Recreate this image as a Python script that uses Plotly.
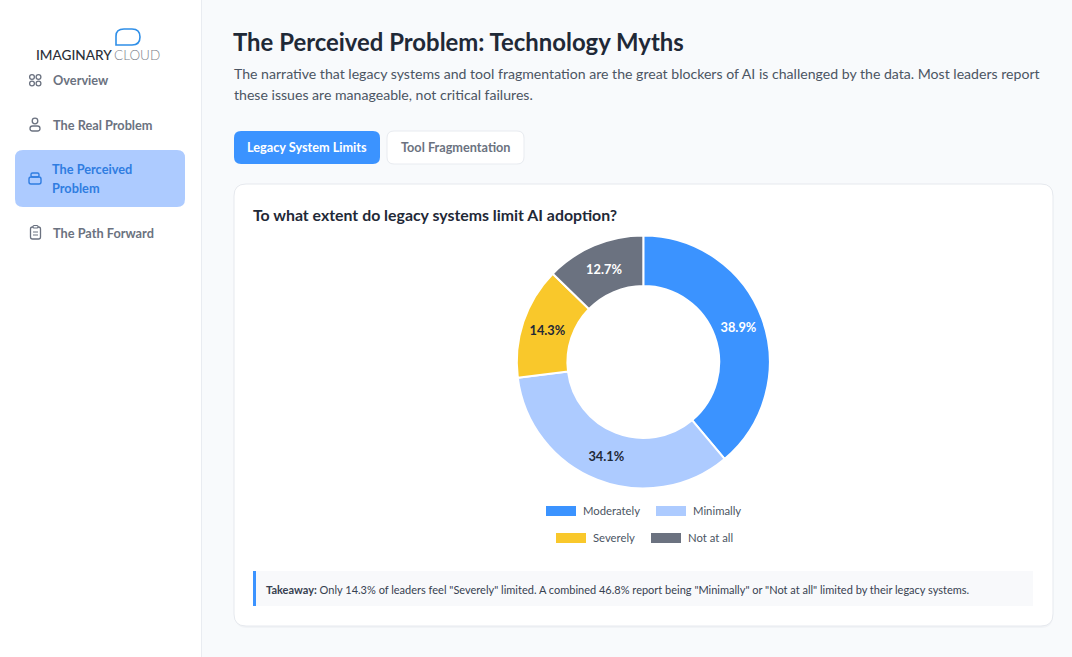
import plotly.graph_objects as go

W, H = 1072, 657

# ---- data ----
slice_labels = ["Moderately", "Minimally", "Severely", "Not at all"]
slice_values = [38.9, 34.1, 14.3, 12.7]
slice_colors = ["#3b93ff", "#adcbff", "#f9c82b", "#6b7280"]
value_text_colors = ["#ffffff", "#1f2937", "#1f2937", "#ffffff"]
nav_labels = ["Overview", "The Real Problem", "The Perceived", "Problem", "The Path Forward"]
tab_labels = ["Legacy System Limits", "Tool Fragmentation"]
page_title = "The Perceived Problem: Technology Myths"
page_intro = ["The narrative that legacy systems and tool fragmentation are the great blockers of AI is challenged by the data. Most leaders report",
              "these issues are manageable, not critical failures."]
chart_title = "To what extent do legacy systems limit AI adoption?"
takeaway = ('<b>Takeaway:</b> Only 14.3% of leaders feel "Severely" limited. A combined 46.8% report being '
            '"Minimally" or "Not at all" limited by their legacy systems.')

FONT = "Lato"
px = lambda x: x / W
py = lambda y: 1 - y / H


def rrect(x0, y0, x1, y1, r):
    X0, X1 = px(x0), px(x1)
    Y0, Y1 = py(y0), py(y1)
    rx, ry = r / W, r / H
    return (f"M{X0+rx},{Y0} L{X1-rx},{Y0} Q{X1},{Y0} {X1},{Y0-ry} L{X1},{Y1+ry} Q{X1},{Y1} {X1-rx},{Y1} "
            f"L{X0+rx},{Y1} Q{X0},{Y1} {X0},{Y1+ry} L{X0},{Y0-ry} Q{X0},{Y0} {X0+rx},{Y0} Z")


shapes, notes = [], []


def box(x0, y0, x1, y1, r=0, fill="white", line=None, lw=1):
    shapes.append(dict(type="path", path=rrect(x0, y0, x1, y1, r), xref="paper", yref="paper",
                       fillcolor=fill, line=dict(color=line or fill, width=lw if line else 0), layer="below"))


def circle(cx, cy, r, color, fill="rgba(0,0,0,0)", lw=1.3):
    shapes.append(dict(type="circle", xref="paper", yref="paper", x0=px(cx - r), x1=px(cx + r),
                       y0=py(cy - r), y1=py(cy + r), fillcolor=fill, line=dict(color=color, width=lw), layer="above"))


def seg(x0, y0, x1, y1, color, lw=1.3):
    shapes.append(dict(type="line", xref="paper", yref="paper", x0=px(x0), x1=px(x1), y0=py(y0), y1=py(y1),
                       line=dict(color=color, width=lw), layer="above"))


def text(x, y, s, size, color, weight=400, anchor="left", align=None):
    notes.append(dict(x=px(x), y=py(y), xref="paper", yref="paper", text=s, showarrow=False,
                      xanchor=anchor, yanchor="middle", align=align or anchor, borderpad=0, borderwidth=0,
                      font=dict(family=FONT, size=size, color=color, weight=weight)))


# sidebar
box(0, 0, 201, 657, 0, "#ffffff")
seg(201.5, 0, 201.5, 657, "#e9ecf1", 1)

# logo
shapes.append(dict(type="path", xref="paper", yref="paper", layer="above", fillcolor="rgba(0,0,0,0)",
                   line=dict(color="#2f8fe8", width=1.6),
                   path=(f"M{px(116)},{py(45)} L{px(116)},{py(36)} Q{px(116)},{py(29)} {px(124)},{py(29)} "
                         f"L{px(132)},{py(29)} Q{px(140)},{py(29)} {px(140)},{py(37)} "
                         f"Q{px(140)},{py(45)} {px(132)},{py(45)} Z")))
text(36, 55, "IMAGINARY", 13.6, "#2b2f38", 500)
text(114, 55, "CLOUD", 13.5, "#7d828b", 300)

# navigation
NAV = "#6b7280"
ACT = "#2f7de1"
NAV_SIZE = 12.75
box(15, 150, 185, 207, 8, "#adcbff")
text(53, 80, nav_labels[0], NAV_SIZE, NAV, 700)
text(53, 124.5, nav_labels[1], NAV_SIZE, NAV, 700)
text(52, 169, nav_labels[2], NAV_SIZE, ACT, 700)
text(52, 188, nav_labels[3], NAV_SIZE, ACT, 700)
text(53, 232.5, nav_labels[4], NAV_SIZE, NAV, 700)

for cx, cy in [(32, 77), (38.5, 77), (32, 83.5), (38.5, 83.5)]:
    circle(cx, cy, 2.4, NAV)
circle(35, 121, 2.8, NAV)
shapes.append(dict(type="path", path=rrect(30, 126, 40, 131, 2.5), xref="paper", yref="paper",
                   fillcolor="rgba(0,0,0,0)", line=dict(color=NAV, width=1.3), layer="above"))
shapes.append(dict(type="path", path=rrect(29, 177, 41, 184, 2), xref="paper", yref="paper",
                   fillcolor="rgba(0,0,0,0)", line=dict(color=ACT, width=1.4), layer="above"))
shapes.append(dict(type="path", path=rrect(31, 173, 39, 177, 1.5), xref="paper", yref="paper",
                   fillcolor="rgba(0,0,0,0)", line=dict(color=ACT, width=1.4), layer="above"))
shapes.append(dict(type="path", path=rrect(30.5, 227, 40.5, 239, 2), xref="paper", yref="paper",
                   fillcolor="rgba(0,0,0,0)", line=dict(color=NAV, width=1.3), layer="above"))
shapes.append(dict(type="path", path=rrect(33, 225.5, 38, 228, 1), xref="paper", yref="paper",
                   fillcolor="#f8fafc", line=dict(color=NAV, width=1.1), layer="above"))
seg(33, 232, 38, 232, NAV, 1)
seg(33, 235, 38, 235, NAV, 1)

# heading
text(233, 41, page_title, 23.9, "#1f2937", 700)
text(233.5, 73, page_intro[0], 14.1, "#4b5563", 400)
text(233.5, 95, page_intro[1], 14.1, "#4b5563", 400)

# tabs
box(234, 131, 380, 164, 7, "#3b93ff")
box(387, 131, 524, 164, 7, "#ffffff", "#e8ebf0")
text(247, 147.5, tab_labels[0], 12.7, "#ffffff", 700)
text(400.5, 147.5, tab_labels[1], 12.7, NAV, 700)

# card
box(235, 186, 1053, 628, 12, "#f1f3f6")
box(234, 184, 1053, 626, 12, "#ffffff", "#e6e9ee")
text(253, 214.5, chart_title, 15.87, "#1f2937", 700)

# legend
rows = [(511, [(546, 583), (656, 693)]), (538, [(556, 592.5), (651, 687.5)])]
i = 0
for y, items in rows:
    for sx, tx in items:
        box(sx, y - 5, sx + 30, y + 5, 0, slice_colors[i])
        text(tx, y - 0.5, slice_labels[i], 11.3, "#4b5563", 400)
        i += 1

# takeaway
box(253, 571, 1033, 606, 0, "#f8f9fb")
box(253, 571, 256, 606, 0, "#3b93ff")
text(266, 589, takeaway, 11, "#374151", 400)

fig = go.Figure(go.Pie(
    labels=slice_labels,
    values=slice_values,
    sort=False,
    direction="clockwise",
    rotation=0,
    hole=0.6,
    marker=dict(colors=slice_colors, line=dict(color="#ffffff", width=2)),
    texttemplate="%{value:.1f}%",
    textposition="inside",
    insidetextorientation="horizontal",
    textfont=dict(family=FONT, size=12.8, color=value_text_colors, weight=700),
    showlegend=False,
    domain=dict(x=[px(516.8), px(769.8)], y=[py(488.5), py(235.5)]),
))
fig.update_layout(
    width=W, height=H,
    margin=dict(l=0, r=0, t=0, b=0),
    paper_bgcolor="#f8fafc",
    plot_bgcolor="#f8fafc",
    font=dict(family=FONT),
    shapes=shapes,
    annotations=notes,
)
fig.write_html("out.html", config={"displayModeBar": False},
               post_script="document.body.style.margin='0';document.body.style.overflow='hidden';")
